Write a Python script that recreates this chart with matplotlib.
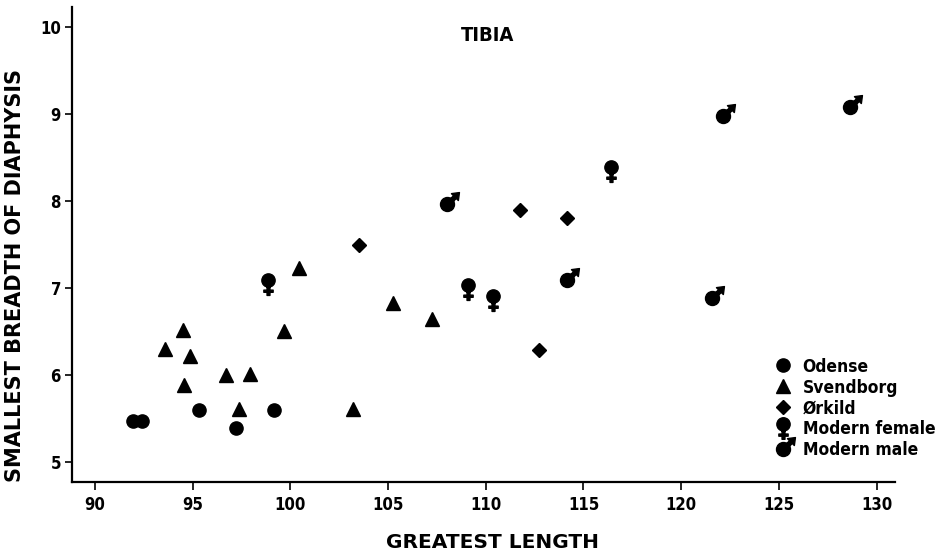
import numpy as np
import matplotlib
matplotlib.use("Agg")
import matplotlib.pyplot as plt
from matplotlib.path import Path
from matplotlib.lines import Line2D

plt.rcParams['font.family'] = ['DejaVu Sans']
plt.rcParams['font.weight'] = 'bold'
plt.rcParams['font.stretch'] = 'condensed'

# data (greatest length, smallest breadth of diaphysis)
odense_x = [91.96, 92.39, 95.32, 97.20, 99.16]
odense_y = [5.47, 5.47, 5.60, 5.39, 5.60]
svendborg_x = [93.58, 94.49, 94.57, 94.86, 96.70, 97.38, 97.93, 99.69, 100.45, 103.22, 105.27, 107.27]
svendborg_y = [6.30, 6.52, 5.89, 6.22, 6.00, 5.61, 6.01, 6.51, 7.23, 5.61, 6.83, 6.64]
orkild_x = [103.53, 111.75, 112.74, 114.17]
orkild_y = [7.49, 7.90, 6.29, 7.81]
female_x = [98.84, 109.07, 110.35, 116.39]
female_y = [7.09, 7.04, 6.91, 8.39]
male_x = [108.00, 114.14, 121.60, 122.16, 128.64]
male_y = [7.97, 7.09, 6.88, 8.98, 9.08]

labels = ["Odense", "Svendborg", "\u00d8rkild", "Modern female", "Modern male"]
xticks = [90, 95, 100, 105, 110, 115, 120, 125, 130]
yticks = [5, 6, 7, 8, 9, 10]


def polygon(pts):
    pts = list(pts) + [pts[0]]
    codes = [Path.MOVETO] + [Path.LINETO] * (len(pts) - 2) + [Path.CLOSEPOLY]
    return Path(pts, codes)


def female_path(dy=0.0):
    # filled circle with a cross underneath
    sw, bw = 0.22, 0.7
    pts = [(-sw, -0.97), (-sw, -1.45), (-bw, -1.45), (-bw, -1.78), (-sw, -1.78), (-sw, -2.25),
           (sw, -2.25), (sw, -1.78), (bw, -1.78), (bw, -1.45), (sw, -1.45), (sw, -0.97)][::-1]
    circ = Path(Path.unit_circle().vertices + [0, dy], Path.unit_circle().codes)
    return Path.make_compound_path(circ, polygon([(x, y + dy) for x, y in pts]))


# male sign: filled circle with an arrow to the upper right
d = np.array([1.0, 1.0]) / np.sqrt(2)
p = np.array([-1.0, 1.0]) / np.sqrt(2)
hw, hh = 0.28, 0.7
arrow_pts = [0.95 * d - hw * p, 1.5 * d - hw * p, 1.5 * d - hh * p, 2.42 * d,
             1.5 * d + hh * p, 1.5 * d + hw * p, 0.95 * d + hw * p]
male_marker = Path.make_compound_path(Path.unit_circle(), polygon([tuple(v) for v in arrow_pts]))
female_marker = female_path()

fig = plt.figure(figsize=(9.41, 5.52), dpi=100)
ax = fig.add_axes([0.0765, 0.1268, 0.951 - 0.0765, 0.9873 - 0.1268])

h1, = ax.plot(odense_x, odense_y, 'o', color='black', markersize=9.5, linestyle='none')
h2, = ax.plot(svendborg_x, svendborg_y, '^', color='black', markersize=10, linestyle='none')
h3, = ax.plot(orkild_x, orkild_y, 'D', color='black', markersize=7.3, linestyle='none')
ax.plot(female_x, female_y, marker=female_marker, color='black', markersize=21.5, linestyle='none')
h5, = ax.plot(male_x, male_y, marker=male_marker, color='black', markersize=17.2, linestyle='none')
# legend symbol for the female sign, centred on its text line
h4 = Line2D([], [], marker=female_path(0.62), color='black', markersize=21.5 * 1.63 / 2.25, linestyle='none')

ax.set_xlim(88.82, 130.94)
ax.set_ylim(4.77, 10.23)
ax.set_xticks(xticks)
ax.set_yticks(yticks)
for s in ['top', 'right']:
    ax.spines[s].set_visible(False)
for s in ['left', 'bottom']:
    ax.spines[s].set_linewidth(1.6)
ax.tick_params(axis='x', length=6, width=1.2, pad=4, labelsize=12)
ax.tick_params(axis='y', length=5, width=1.2, pad=3, labelsize=12)

ax.set_xlabel("GREATEST LENGTH", fontsize=14.5, fontweight='bold', fontstretch='normal')
ax.xaxis.set_label_coords(0.511, -0.108)
ax.set_ylabel("SMALLEST BREADTH OF DIAPHYSIS", fontsize=15, fontweight='bold', fontstretch='normal')
ax.yaxis.set_label_coords(-0.057, 0.434)

ax.text(0.505, 0.939, "TIBIA", transform=ax.transAxes, ha='center', va='center',
        fontsize=14.5, fontweight='bold')

leg = ax.legend([h1, h2, h3, h4, h5], labels, loc='upper left', bbox_to_anchor=(0.854, 0.262),
                frameon=False, borderpad=0, borderaxespad=0, handlelength=1.0, handletextpad=0.6,
                labelspacing=0.17, prop={'size': 12.5, 'weight': 'bold'})

fig.savefig("out.png", dpi=100)
